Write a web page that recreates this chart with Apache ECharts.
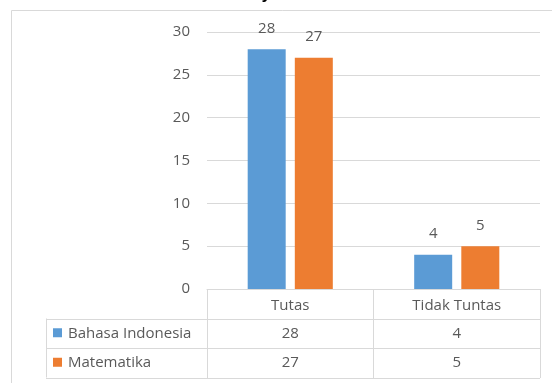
<!DOCTYPE html>
<html>
<head>
<meta charset="utf-8">
<script src="https://cdn.jsdelivr.net/npm/echarts@6/dist/echarts.min.js"></script>
<style>
  html, body { margin: 0; padding: 0; background: #fff; }
  #chart { width: 552px; height: 383px; }
</style>
</head>
<body>
<div id="chart"></div>
<script>
const categories = ['Tutas', 'Tidak Tuntas']
const bahasaIndonesia = [28, 4]
const matematika = [27, 5]
const seriesNames = ['Bahasa Indonesia', 'Matematika']
const yTicks = { min: 0, max: 30, interval: 5 }

const BLUE = '#5B9BD5'
const ORANGE = '#ED7D31'
const LINE = '#D9D9D9'
const TEXT = '#595959'
const FONT = 'Open Sans'

const chartDom = document.getElementById('chart')
const myChart = echarts.init(chartDom, null, { renderer: 'canvas' })

const labelStyle = {
  show: true,
  position: 'top',
  distance: 13,
  color: TEXT,
  fontSize: 15,
  fontFamily: FONT
}

const option = {
  animation: false,
  grid: { left: 207, right: 12, top: 32, bottom: 94 },
  xAxis: {
    type: 'category',
    data: categories,
    axisLine: { lineStyle: { color: LINE, width: 1 } },
    axisTick: { show: true, length: 89, alignWithLabel: false, lineStyle: { color: LINE } },
    axisLabel: { color: TEXT, fontSize: 15, fontFamily: FONT, margin: 9 }
  },
  yAxis: {
    type: 'value',
    min: yTicks.min,
    max: yTicks.max,
    interval: yTicks.interval,
    axisLine: { show: false },
    axisTick: { show: false },
    axisLabel: { color: TEXT, fontSize: 15, fontFamily: FONT, margin: 17 },
    splitLine: { lineStyle: { color: LINE, width: 1 } }
  },
  series: [
    {
      name: seriesNames[0],
      type: 'bar',
      data: bahasaIndonesia,
      barWidth: 38,
      barGap: '24%',
      itemStyle: { color: BLUE },
      label: labelStyle
    },
    {
      name: seriesNames[1],
      type: 'bar',
      data: matematika,
      barWidth: 38,
      barGap: '24%',
      itemStyle: { color: ORANGE },
      label: labelStyle
    }
  ]
}
myChart.setOption(option)

// data table below the plot, built from the same arrays
const rowH = 29.5
const axisY = myChart.convertToPixel({ yAxisIndex: 0 }, 0)
const tableLeft = 46
const plotRight = 540
const rows = [
  { name: seriesNames[0], color: BLUE, values: bahasaIndonesia },
  { name: seriesNames[1], color: ORANGE, values: matematika }
]
const graphics = [
  // outer chart frame (cut by the picture edge)
  { type: 'rect', shape: { x: 11.5, y: 10.5, width: 600, height: 400 },
    style: { fill: 'none', stroke: LINE, lineWidth: 1 }, silent: true },
  // cut-off title glyph
  { type: 'text', x: 262, y: -13,
    style: { text: 'y', fill: '#000', font: 'bold 15px ' + FONT } },
  // left edge of legend column
  { type: 'line', shape: { x1: tableLeft + 0.5, y1: axisY + rowH, x2: tableLeft + 0.5, y2: axisY + 3 * rowH },
    style: { stroke: LINE, lineWidth: 1 } }
]
rows.forEach((row, i) => {
  const yTop = axisY + (i + 1) * rowH
  const yMid = yTop + rowH / 2
  graphics.push({ type: 'line', shape: { x1: tableLeft, y1: Math.round(yTop) + 0.5, x2: plotRight, y2: Math.round(yTop) + 0.5 },
    style: { stroke: LINE, lineWidth: 1 } })
  graphics.push({ type: 'rect', shape: { x: 53, y: yMid - 5, width: 9, height: 9 }, style: { fill: row.color } })
  graphics.push({ type: 'text', x: 68, y: yMid, style: { text: row.name, fill: TEXT, font: '15px ' + FONT, verticalAlign: 'middle' } })
  row.values.forEach((v, j) => {
    const cx = myChart.convertToPixel({ xAxisIndex: 0 }, categories[j])
    graphics.push({ type: 'text', x: cx, y: yMid,
      style: { text: String(v), fill: TEXT, font: '15px ' + FONT, align: 'center', verticalAlign: 'middle' } })
  })
})
const yBottom = axisY + 3 * rowH
graphics.push({ type: 'line', shape: { x1: tableLeft, y1: Math.round(yBottom) + 0.5, x2: plotRight, y2: Math.round(yBottom) + 0.5 },
  style: { stroke: LINE, lineWidth: 1 } })
myChart.setOption({ graphic: graphics })
</script>
</body>
</html>
